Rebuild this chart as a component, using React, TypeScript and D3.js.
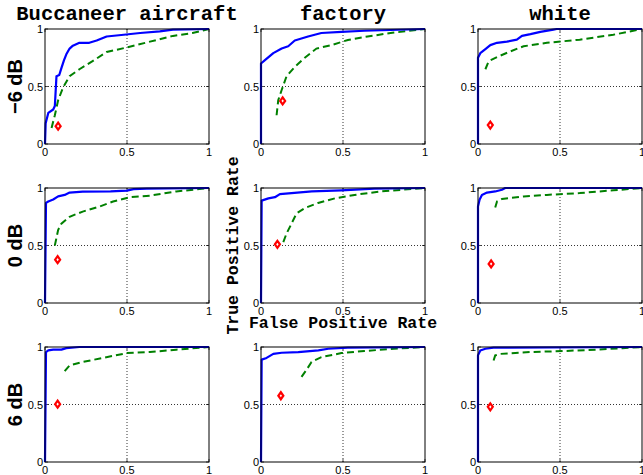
import React from 'react';
import * as d3 from 'd3';

const noiseTypes = ['Buccaneer aircraft', 'factory', 'white'];
const snrLabels = ['\u22126 dB', '0 dB', '6 dB'];
const ticks = [0, 0.5, 1];
const tickLabels = ['0', '0.5', '1'];

// ROC points [FPR, TPR]
const bucM6Blue = [[0, 0], [0.004, 0.18], [0.02, 0.27], [0.05, 0.3], [0.06, 0.33], [0.07, 0.59], [0.087, 0.6], [0.1, 0.66], [0.116, 0.73], [0.13, 0.78], [0.15, 0.83], [0.17, 0.855], [0.21, 0.88], [0.27, 0.88], [0.315, 0.9], [0.376, 0.935], [0.48, 0.95], [0.58, 0.965], [0.7, 0.98], [0.78, 0.995], [1, 1]];
const bucM6Green = [[0.04, 0.14], [0.06, 0.25], [0.08, 0.38], [0.11, 0.49], [0.15, 0.59], [0.21, 0.65], [0.29, 0.72], [0.376, 0.8], [0.5, 0.84], [0.64, 0.89], [0.78, 0.94], [0.9, 0.965], [1, 1]];
const facM6Blue = [[0, 0], [0, 0.7], [0.024, 0.73], [0.075, 0.79], [0.126, 0.83], [0.166, 0.85], [0.206, 0.9], [0.287, 0.935], [0.368, 0.965], [0.49, 0.975], [0.63, 0.985], [1, 1]];
const facM6Green = [[0.095, 0.25], [0.105, 0.38], [0.126, 0.47], [0.156, 0.59], [0.206, 0.67], [0.267, 0.75], [0.338, 0.83], [0.43, 0.86], [0.53, 0.905], [0.65, 0.935], [0.79, 0.965], [1, 1]];
const whiM6Blue = [[0, 0], [0, 0.75], [0.014, 0.79], [0.045, 0.825], [0.075, 0.86], [0.116, 0.88], [0.176, 0.89], [0.237, 0.907], [0.268, 0.94], [0.32, 0.955], [0.38, 0.975], [0.46, 0.995], [0.48, 1], [1, 1]];
const whiM6Green = [[0.045, 0.65], [0.065, 0.72], [0.116, 0.756], [0.197, 0.805], [0.278, 0.85], [0.42, 0.88], [0.62, 0.907], [0.825, 0.95], [1, 1]];

const buc0Blue = [[0, 0], [0.006, 0.87], [0.02, 0.883], [0.05, 0.9], [0.08, 0.927], [0.12, 0.94], [0.15, 0.96], [0.23, 0.968], [0.4, 0.97], [0.5, 0.977], [0.54, 0.99], [0.62, 0.994], [1, 1]];
const buc0Green = [[0.06, 0.5], [0.08, 0.635], [0.1, 0.69], [0.15, 0.75], [0.23, 0.795], [0.335, 0.84], [0.415, 0.883], [0.52, 0.92], [0.64, 0.933], [0.8, 0.97], [1, 1]];
const fac0Blue = [[0, 0], [0.004, 0.89], [0.045, 0.91], [0.085, 0.92], [0.115, 0.947], [0.186, 0.956], [0.31, 0.97], [0.49, 0.98], [0.69, 0.994], [1, 1]];
const fac0Green = [[0.136, 0.53], [0.156, 0.605], [0.186, 0.69], [0.217, 0.78], [0.267, 0.825], [0.348, 0.87], [0.45, 0.91], [0.57, 0.94], [0.73, 0.97], [1, 1]];
const whi0Blue = [[0, 0], [0, 0.84], [0.01, 0.9], [0.024, 0.94], [0.055, 0.96], [0.105, 0.97], [0.146, 0.985], [0.166, 1], [1, 1]];
const whi0Green = [[0.105, 0.83], [0.116, 0.883], [0.146, 0.905], [0.278, 0.927], [0.42, 0.94], [0.62, 0.956], [0.825, 0.98], [1, 1]];

const buc6Blue = [[0, 0], [0.006, 0.956], [0.02, 0.97], [0.05, 0.977], [0.1, 0.977], [0.13, 0.99], [0.21, 1], [1, 1]];
const buc6Green = [[0.12, 0.79], [0.15, 0.84], [0.23, 0.87], [0.335, 0.9], [0.5, 0.947], [0.64, 0.956], [0.8, 0.977], [1, 1]];
const fac6Blue = [[0, 0], [0.004, 0.89], [0.034, 0.905], [0.075, 0.94], [0.126, 0.95], [0.227, 0.956], [0.35, 0.97], [0.41, 0.985], [0.53, 0.994], [1, 1]];
const fac6Green = [[0.247, 0.74], [0.277, 0.8], [0.308, 0.87], [0.368, 0.912], [0.49, 0.947], [0.63, 0.965], [0.81, 0.985], [1, 1]];
const whi6Blue = [[0, 0], [0, 0.927], [0.014, 0.97], [0.045, 0.985], [0.095, 0.994], [1, 1]];
const whi6Green = [[0.095, 0.883], [0.105, 0.927], [0.136, 0.94], [0.32, 0.956], [0.52, 0.965], [0.72, 0.977], [0.88, 0.99], [1, 1]];

// single operating points (red diamonds), rows = SNR, cols = noise
const pointsM6 = [[0.08, 0.155], [0.132, 0.375], [0.075, 0.165]];
const points0 = [[0.077, 0.377], [0.1, 0.51], [0.08, 0.34]];
const points6 = [[0.077, 0.503], [0.121, 0.576], [0.075, 0.48]];

const blueRows = [[bucM6Blue, facM6Blue, whiM6Blue], [buc0Blue, fac0Blue, whi0Blue], [buc6Blue, fac6Blue, whi6Blue]];
const greenRows = [[bucM6Green, facM6Green, whiM6Green], [buc0Green, fac0Green, whi0Green], [buc6Green, fac6Green, whi6Green]];
const pointRows = [pointsM6, points0, points6];

const W = 643;
const H = 475;
const colX = [45, 261, 478];
const rowY = [29, 188, 347];
const pw = 164;
const ph = 115;
const mono = '"Liberation Mono", "DejaVu Sans Mono", monospace';
const sans = '"Liberation Sans", Arial, sans-serif';

function Panel({ x0, y0, blue, green, pt }) {
  const x = d3.scaleLinear().domain([0, 1]).range([x0, x0 + pw]);
  const y = d3.scaleLinear().domain([0, 1]).range([y0 + ph, y0]);
  const line = d3.line().x(d => x(d[0])).y(d => y(d[1]));
  const cx = x(pt[0]);
  const cy = y(pt[1]);
  return (
    <g>
      <rect x={x0} y={y0} width={pw} height={ph} fill="#fff" />
      {/* dotted grid */}
      <line x1={x(0.5)} x2={x(0.5)} y1={y(0)} y2={y(1)} stroke="#000" strokeWidth={0.8} strokeDasharray="1,2" />
      <line x1={x(0)} x2={x(1)} y1={y(0.5)} y2={y(0.5)} stroke="#000" strokeWidth={0.8} strokeDasharray="1,2" />
      {ticks.map((t, i) => (
        <g key={i}>
          <line x1={x(t)} x2={x(t)} y1={y(0)} y2={y(0) - 3} stroke="#000" strokeWidth={0.7} />
          <line x1={x(t)} x2={x(t)} y1={y(1)} y2={y(1) + 3} stroke="#000" strokeWidth={0.7} />
          <line x1={x(0)} x2={x(0) + 3} y1={y(t)} y2={y(t)} stroke="#000" strokeWidth={0.7} />
          <line x1={x(1)} x2={x(1) - 3} y1={y(t)} y2={y(t)} stroke="#000" strokeWidth={0.7} />
          <text x={x(t)} y={y(0) + 12} textAnchor="middle" fontFamily={sans} fontSize={11}>{tickLabels[i]}</text>
          <text x={x(0) - 2} y={y(t) + 4} textAnchor="end" fontFamily={sans} fontSize={11}>{tickLabels[i]}</text>
        </g>
      ))}
      <path d={line(green)} fill="none" stroke="#008000" strokeWidth={2} strokeDasharray="7,4" />
      <path d={line(blue)} fill="none" stroke="#0000ff" strokeWidth={2.2} strokeLinejoin="round" />
      <path d={`M${cx},${cy - 3.5}L${cx + 2.5},${cy}L${cx},${cy + 3.5}L${cx - 2.5},${cy}Z`} fill="#fff" stroke="#ff0000" strokeWidth={2.2} />
      <rect x={x0} y={y0} width={pw} height={ph} fill="none" stroke="#000" strokeWidth={1} />
    </g>
  );
}

export default function App() {
  return (
    <svg width={W} height={H} style={{ position: 'absolute', left: 0, top: 0, background: '#fff' }}>
      <rect width={W} height={H} fill="#fff" />
      {noiseTypes.map((n, c) => (
        <text key={n} x={colX[c] + pw / 2} y={20} textAnchor="middle" fontFamily={mono} fontWeight="bold" fontSize={20.5}>{n}</text>
      ))}
      {snrLabels.map((s, r) => (
        <text key={s} transform={`translate(22,${rowY[r] + ph / 2}) rotate(-90)`} textAnchor="middle" fontFamily={sans} fontWeight="bold" fontSize={20}>{s}</text>
      ))}
      {blueRows.map((row, r) =>
        row.map((b, c) => (
          <Panel key={`${r}-${c}`} x0={colX[c]} y0={rowY[r]} blue={b} green={greenRows[r][c]} pt={pointRows[r][c]} />
        ))
      )}
      <text transform={`translate(238,${rowY[1] + ph / 2}) rotate(-90)`} textAnchor="middle" fontFamily={mono} fontWeight="bold" fontSize={16.5}>True Positive Rate</text>
      <text x={colX[1] + pw / 2} y={328} textAnchor="middle" fontFamily={mono} fontWeight="bold" fontSize={16.5}>False Positive Rate</text>
    </svg>
  );
}
